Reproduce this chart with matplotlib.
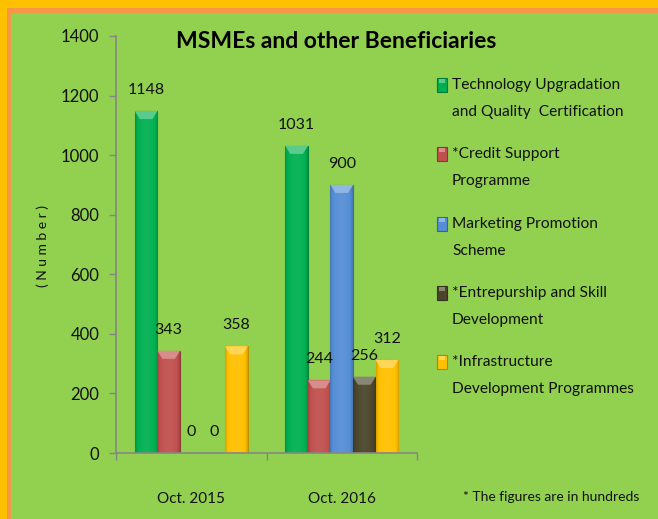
import matplotlib.pyplot as plt
import matplotlib.colors as mcolors
from matplotlib.patches import Rectangle, Polygon
import numpy as np

plt.rcParams['font.family'] = ['Lato', 'DejaVu Sans']

# data (figures in hundreds)
periods = ['Oct. 2015', 'Oct. 2016']
series = ['Technology Upgradation\nand Quality  Certification',
          '*Credit Support\nProgramme',
          'Marketing Promotion\nScheme',
          '*Entrepurship and Skill\nDevelopment',
          '*Infrastructure\nDevelopment Programmes']
tech_upgradation = [1148, 1031]
credit_support = [343, 244]
marketing_promotion = [0, 900]
entrepreneurship = [0, 256]
infrastructure = [358, 312]
colors = ['#00B050', '#C0504D', '#558ED5', '#4A452A', '#FFC000']

values = [tech_upgradation, credit_support, marketing_promotion,
          entrepreneurship, infrastructure]

fig = plt.figure(figsize=(6.58, 5.19), dpi=100)
fig.patch.set_facecolor('#FFC000')
# salmon inner frame and green chart area
fig.patches.append(Rectangle((7/658, 0), 1, 1 - 8/519, transform=fig.transFigure,
                             facecolor='#F79646', edgecolor='none', zorder=-2))
fig.patches.append(Rectangle((11/658, 0), 1, 1 - 13/519, transform=fig.transFigure,
                             facecolor='#92D050', edgecolor='none', zorder=-1))

ax = fig.add_axes([116/658, 1 - 453/519, (417 - 116)/658, (453 - 36)/519])
ax.set_facecolor('none')

x = np.arange(len(periods))
w = 0.15
bevel_h = 1400 * 8 / 417
bevel_in = w * 0.22


def shade(c, f):
    r, g, b = mcolors.to_rgb(c)
    if f < 1:
        return (r * f, g * f, b * f)
    return (r + (1 - r) * (f - 1), g + (1 - g) * (f - 1), b + (1 - b) * (f - 1))


for i, (vals, c) in enumerate(zip(values, colors)):
    pos = x + (i - 2) * w
    bars = ax.bar(pos, vals, width=w, color=c, edgecolor=shade(c, 0.75),
                  linewidth=0.8, zorder=2)
    for b, v in zip(bars, vals):
        if v > 0:
            x0 = b.get_x()
            # horizontal gradient for a rounded look
            t = np.linspace(0, 1, 40)
            prof = 1 - 0.35 * np.abs(t - 0.5) ** 1.6 * 2
            cmap = mcolors.LinearSegmentedColormap.from_list(
                'g', [shade(c, 0.62), c, shade(c, 1.08)])
            im = ax.imshow(prof[None, :], extent=[x0, x0 + w, 0, v], aspect='auto',
                           cmap=cmap, vmin=0.65, vmax=1.05, zorder=2.5,
                           interpolation='bilinear')
            im.set_clip_path(b)
            top = Polygon([[x0, v], [x0 + w, v], [x0 + w - bevel_in, v - bevel_h],
                           [x0 + bevel_in, v - bevel_h]], closed=True,
                          facecolor=shade(c, 1.35), edgecolor='none', zorder=2.6)
            ax.add_patch(top)
        ax.annotate(str(v), (b.get_x() + w / 2, v), xytext=(0, 21),
                    textcoords='offset pixels', ha='center', va='center',
                    fontsize=11.5, color='#111111', zorder=4)

ax.set_xlim(-0.5, 1.5)
ax.set_ylim(0, 1400)
ax.set_yticks(np.arange(0, 1401, 200))
ax.tick_params(axis='y', labelsize=12, colors='#868686', labelcolor='#111111',
               length=5, width=1, pad=7)
ax.set_xticks([-0.5, 0.5, 1.5])
ax.set_xticklabels([])
ax.tick_params(axis='x', colors='#868686', length=5, width=1)
ax.set_xticks(x, minor=True)
ax.set_xticklabels(periods, minor=True)
ax.tick_params(axis='x', which='minor', length=0, pad=28, labelsize=11,
               labelcolor='#111111')
for s in ['top', 'right']:
    ax.spines[s].set_visible(False)
for s in ['left', 'bottom']:
    ax.spines[s].set_color('#868686')
    ax.spines[s].set_linewidth(1.2)

fig.text(43/658, 1 - 246/519, '( N u m b e r )', rotation=90, ha='center',
         va='center', fontsize=10, color='#111111')
fig.text(336/658, 1 - 41/519, 'MSMEs and other Beneficiaries', ha='center',
         va='center', fontsize=16.5, fontweight='bold', color='black')

# legend
for i, (lab, c) in enumerate(zip(series, colors)):
    yc = 85 + i * 69.3
    fig.patches.append(Rectangle((437/658, 1 - (yc + 7)/519), 10/658, 14/519,
                                 transform=fig.transFigure, facecolor=c,
                                 edgecolor=shade(c, 0.7), linewidth=0.8))
    fig.patches.append(Rectangle((439/658, 1 - (yc - 2)/519), 6/658, 4/519,
                                 transform=fig.transFigure, facecolor=shade(c, 1.35),
                                 edgecolor='none'))
    for j, line in enumerate(lab.split('\n')):
        fig.text(452/658, 1 - (yc + 27 * j)/519, line, ha='left', va='center',
                 fontsize=11.2, color='#111111')

fig.text(551/658, 1 - 497/519, '* The figures are in hundreds', ha='center',
         va='center', fontsize=10, color='#111111')

fig.savefig('out.png', dpi=100, facecolor=fig.get_facecolor())
